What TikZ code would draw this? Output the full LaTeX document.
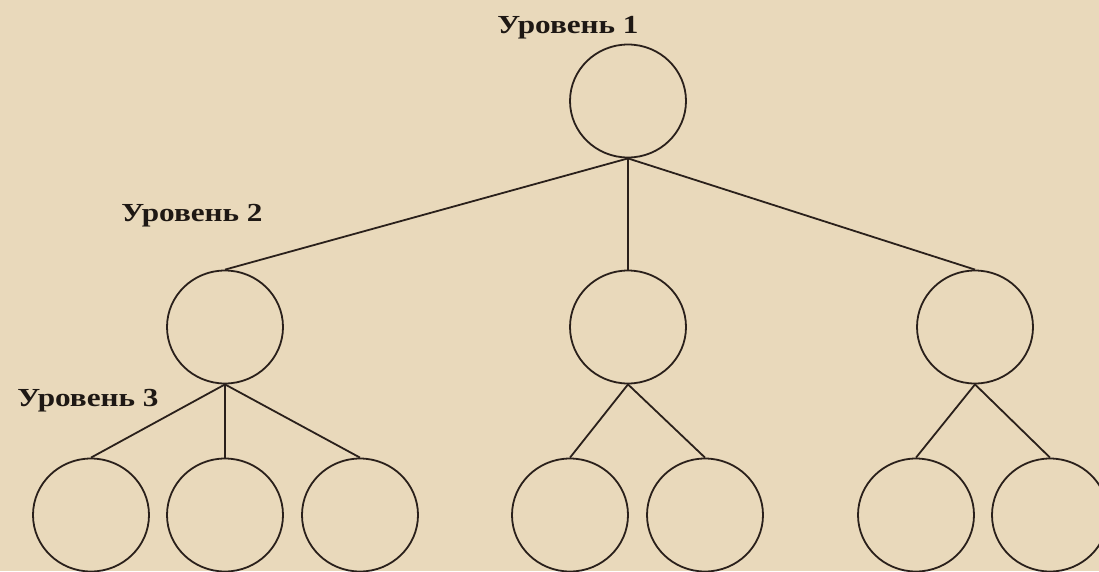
\documentclass[tikz,border=0pt]{standalone}
\usepackage{fontspec}
\setmainfont{Liberation Serif}
\usetikzlibrary{shapes.geometric}
\definecolor{parch}{HTML}{E9D9BB}
\definecolor{ink}{HTML}{2A201B}
\definecolor{txt}{HTML}{1E1814}
\tikzset{
  vert/.style={ellipse, draw=ink, line width=1.8pt, minimum width=116pt, minimum height=113pt, inner sep=0pt},
  edge/.style={draw=ink, line width=1.8pt},
  lvl/.style={anchor=base, text=txt, inner sep=0pt, font=\fontsize{26}{30}\selectfont\bfseries}
}
\begin{document}
\begin{tikzpicture}[x=1pt,y=-1pt]
\fill[parch] (0,0) rectangle (1099,571);
\useasboundingbox (0,0) rectangle (1099,571);
% labels
\node[lvl] (l1) at (568,33) {\scalebox{1.2}[1]{Уровень 1}};
\node[lvl] (l2) at (192,221) {\scalebox{1.2}[1]{Уровень 2}};
\node[lvl] (l3) at (88,406) {\scalebox{1.2}[1]{Уровень 3}};
% level 1
\node[vert] (r) at (628,101) {};
% level 2
\node[vert] (a) at (225,327) {};
\node[vert] (b) at (628,327) {};
\node[vert] (c) at (975,327) {};
% level 3
\node[vert] (a1) at (91,515) {};
\node[vert] (a2) at (225,515) {};
\node[vert] (a3) at (360,515) {};
\node[vert] (b1) at (570,515) {};
\node[vert] (b2) at (705,515) {};
\node[vert] (c1) at (916,515) {};
\node[vert] (c2) at (1050,515) {};
% edges
\draw[edge] (r.south) -- (a.north);
\draw[edge] (r.south) -- (b.north);
\draw[edge] (r.south) -- (c.north);
\draw[edge] (a.south) -- (a1.north);
\draw[edge] (a.south) -- (a2.north);
\draw[edge] (a.south) -- (a3.north);
\draw[edge] (b.south) -- (b1.north);
\draw[edge] (b.south) -- (b2.north);
\draw[edge] (c.south) -- (c1.north);
\draw[edge] (c.south) -- (c2.north);
\end{tikzpicture}
\end{document}
